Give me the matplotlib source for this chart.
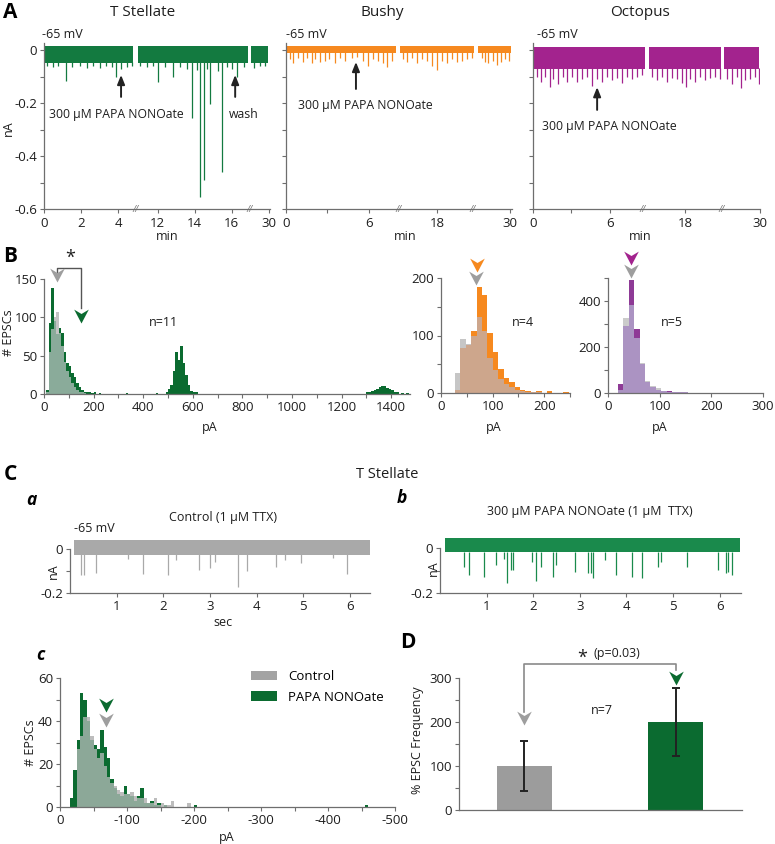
import numpy as np
import matplotlib
matplotlib.use("Agg")
import matplotlib.pyplot as plt
from matplotlib.path import Path
from matplotlib.patches import Patch

plt.rcParams['font.family'] = ['Open Sans', 'DejaVu Sans']
plt.rcParams['axes.unicode_minus'] = False

W, H = 775, 844
GREEN = '#0b6b30'
TRACE_G = '#137a40'
ORANGE = '#f6891f'
PURPLE = '#a3238e'
SPINE = '#6e6e6e'
TXT = '#1e1e1e'

# ---------------- A: long recordings (event time in min, peak in nA) ----------------
ts_segs = [(0.05, 4.81, 0.0), (10.93, 16.86, 5.87), (29.01, 29.91, 17.84)]
ts_breaks = [4.92, 11.08]
ts_ticks = [0, 2, 4, 12, 14, 16, 30]
ts_ticklabels = ['0', '2', '4', '12', '14', '16', '30']
ts_band = (0.015, -0.05)
ts_t = [0.14, 0.5, 0.77, 1.17, 1.5, 1.95, 2.34, 2.67, 3.03, 3.35, 3.66, 3.89, 4.14, 4.47, 4.74,
        11.06, 11.42, 11.78, 12.05, 12.41, 12.83, 13.22, 13.58, 13.85, 14.12, 14.3, 14.5, 14.66,
        14.84, 15.24, 15.47, 15.74, 16.01, 16.3, 16.64,
        29.15, 29.48, 29.79]
ts_a = [-0.06, -0.065, -0.06, -0.117, -0.065, -0.062, -0.066, -0.06, -0.068, -0.062, -0.065, -0.1,
        -0.07, -0.063, -0.06,
        -0.06, -0.065, -0.062, -0.12, -0.065, -0.1, -0.065, -0.07, -0.255, -0.075, -0.555, -0.49,
        -0.07, -0.205, -0.08, -0.46, -0.065, -0.07, -0.1, -0.065,
        -0.068, -0.06, -0.062]

bu_segs = [(0.07, 7.97, 0.0), (15.32, 20.68, 7.06), (27.68, 30.1, 13.77)]
bu_breaks = [8.19, 13.55]
bu_ticks = [0, 3, 6, 18, 30]
bu_ticklabels = ['0', '', '6', '18', '30']
bu_band = (0.014, -0.013)
bu_t = [0.29, 0.53, 0.89, 1.21, 1.5, 1.86, 2.1, 2.46, 2.83, 3.14, 3.55, 3.91, 4.28, 4.76, 5.17,
        5.6, 5.92, 6.33, 6.69, 7.05, 7.34, 7.66,
        15.56, 15.85, 16.17, 16.53, 16.89, 17.25, 17.62, 17.98, 18.34, 18.7, 19.06, 19.43, 19.79,
        20.15, 20.51,
        27.94, 28.19, 28.43, 28.75, 29.04, 29.35, 29.64, 29.95]
bu_a = [-0.035, -0.05, -0.03, -0.045, -0.03, -0.05, -0.035, -0.045, -0.04, -0.035, -0.05, -0.03,
        -0.04, -0.03, -0.025, -0.04, -0.06, -0.035, -0.04, -0.05, -0.065, -0.04,
        -0.035, -0.045, -0.03, -0.05, -0.035, -0.04, -0.06, -0.075, -0.04, -0.05, -0.035, -0.045,
        -0.04, -0.035, -0.03,
        -0.03, -0.045, -0.05, -0.04, -0.055, -0.045, -0.035, -0.04]

oc_segs = [(0.0, 8.75, 0.0), (15.21, 20.84, 6.15), (27.23, 29.97, 12.31)]
oc_breaks = [8.57, 14.73]
oc_ticks = [0, 3, 6, 18, 30]
oc_ticklabels = ['0', '', '6', '18', '30']
oc_band = (0.012, -0.072)
oc_t = [0.29, 0.6, 0.94, 1.33, 1.59, 1.98, 2.32, 2.63, 3.02, 3.41, 3.8, 4.19, 4.58, 4.97, 5.36,
        5.76, 6.14, 6.54, 6.93, 7.32, 7.71, 8.1, 8.49,
        15.42, 15.81, 16.2, 16.59, 16.98, 17.37, 17.76, 18.08, 18.42, 18.81, 19.2, 19.59, 19.98,
        20.37, 20.71,
        27.44, 27.83, 28.22, 28.53, 28.87, 29.26, 29.65, 29.94]
oc_a = [-0.1, -0.12, -0.1, -0.14, -0.11, -0.13, -0.1, -0.12, -0.1, -0.12, -0.11, -0.1, -0.135,
        -0.11, -0.12, -0.1, -0.115, -0.105, -0.125, -0.1, -0.11, -0.1, -0.095,
        -0.1, -0.115, -0.1, -0.12, -0.105, -0.11, -0.125, -0.14, -0.11, -0.12, -0.1, -0.115,
        -0.105, -0.1, -0.11,
        -0.11, -0.13, -0.1, -0.145, -0.115, -0.11, -0.1, -0.13]

# ---------------- B: amplitude histograms (bin left edge in pA, counts) ----------------
ts_bins = [10, 20, 30, 40, 50, 60, 70, 80, 90, 100, 110, 120, 130, 140, 150, 160, 170, 180, 190,
           200, 220, 330, 450, 490, 500, 510, 520, 530, 540, 550, 560, 570, 580, 590, 600, 610,
           1300, 1310, 1320, 1330, 1340, 1350, 1360, 1370, 1380, 1390, 1400, 1410, 1420, 1440, 1460]
ts_papa = [5, 92, 138, 95, 78, 86, 80, 55, 40, 37, 28, 22, 14, 9, 5, 3, 2, 3, 1,
           2, 1, 1, 1, 2, 7, 12, 30, 55, 45, 63, 40, 25, 12, 4, 2, 2,
           2, 3, 4, 5, 7, 9, 10, 10, 8, 7, 5, 3, 2, 1, 1]
ts_ctrl = [3, 55, 85, 100, 107, 80, 62, 42, 30, 22, 14, 9, 5, 3, 2, 1, 0, 0, 0,
           0, 0, 0, 0, 0, 0, 0, 0, 0, 0, 0, 0, 0, 0, 0, 0, 0,
           0, 0, 0, 0, 0, 0, 0, 0, 0, 0, 0, 0, 0, 0, 0]

bu_bins = [27, 37.5, 48, 58.5, 69, 79.5, 90, 100.5, 111, 121.5, 132, 142.5, 153, 163.5, 174,
           184.5, 195, 205.5, 216, 226.5, 237]
bu_papa = [5, 78, 84, 107, 185, 170, 105, 71, 42, 26, 19, 10, 6, 3, 2, 3, 0, 3, 0, 0, 2]
bu_ctrl = [34, 94, 86, 100, 133, 107, 60, 40, 25, 15, 10, 6, 4, 2, 1, 1, 0, 0, 0, 0, 0]

oc_bins = [19, 29.5, 40, 50.5, 61, 71.5, 82, 92.5, 103, 113.5, 124, 134.5, 145, 155.5, 166, 176.5]
oc_papa = [40, 290, 493, 278, 125, 48, 25, 14, 10, 7, 5, 4, 3, 2, 2, 1]
oc_ctrl = [15, 325, 384, 240, 130, 53, 30, 20, 8, 6, 5, 3, 3, 2, 1, 1]

# ---------------- C: TTX recordings (time in s, peak in nA) ----------------
ca_span = (0.08, 6.42)
ca_band = (0.04, -0.027)
ca_t = [0.24, 0.3, 0.55, 1.24, 1.57, 2.1, 2.28, 2.76, 3.0, 3.1, 3.6, 3.8, 4.41, 4.6, 4.96, 5.64, 5.93]
ca_a = [-0.118, -0.12, -0.108, -0.045, -0.112, -0.118, -0.05, -0.095, -0.087, -0.06, -0.172,
        -0.1, -0.083, -0.05, -0.065, -0.04, -0.112]

cb_span = (0.1, 6.44)
cb_band = (0.045, -0.02)
cb_t = [0.52, 0.62, 0.95, 1.2, 1.38, 1.44, 1.52, 1.56, 1.97, 2.05, 2.17, 2.43, 2.5, 2.9, 3.18,
        3.23, 3.29, 3.54, 3.77, 4.11, 4.33, 4.67, 4.74, 5.31, 5.96, 6.14, 6.19, 6.26]
cb_a = [-0.086, -0.12, -0.128, -0.076, -0.05, -0.156, -0.098, -0.098, -0.06, -0.145, -0.086,
        -0.13, -0.076, -0.108, -0.11, -0.11, -0.135, -0.055, -0.12, -0.13, -0.135, -0.084, -0.06,
        -0.086, -0.098, -0.11, -0.105, -0.12]

# c: amplitude histogram in TTX (bin left edge, |pA|, width 5)
tt_bins = [15, 20, 25, 30, 35, 40, 45, 50, 55, 60, 65, 70, 75, 80, 85, 90, 95, 100, 105, 110,
           115, 120, 125, 130, 135, 140, 145, 150, 155, 160, 165, 190, 200, 455]
tt_papa = [4, 17, 31, 53, 50, 40, 31, 29, 27, 36, 28, 23, 13, 9, 6, 5, 10, 6, 5, 3,
           5, 9, 2, 2, 3, 1, 2, 0, 1, 0, 0, 0, 1, 1]
tt_ctrl = [0, 0, 27, 33, 42, 42, 33, 27, 23, 25, 19, 14, 11, 10, 8, 7, 6, 6, 7, 5,
           4, 4, 4, 2, 2, 4, 1, 2, 1, 1, 3, 2, 0, 0]

# D: EPSC frequency
d_names = ['Control', 'PAPA NONOate']
d_vals = [100, 200]
d_err = [56, 77]

fig = plt.figure(figsize=(7.75, 8.44), dpi=100)


def box(l, t, r, b):
    return fig.add_axes([l / W, 1 - b / H, (r - l) / W, (b - t) / H])


def ftext(x, y, s, **kw):
    kw.setdefault('color', TXT)
    kw.setdefault('ha', 'center')
    kw.setdefault('va', 'center')
    kw.setdefault('fontsize', 9)
    fig.text(x / W, 1 - y / H, s, **kw)


def style(ax):
    for s in ['top', 'right']:
        ax.spines[s].set_visible(False)
    for s in ['left', 'bottom']:
        ax.spines[s].set_color(SPINE)
        ax.spines[s].set_linewidth(0.9)
    ax.tick_params(which='both', direction='out', length=3, width=0.8, color=SPINE,
                   labelsize=9.5, pad=2, labelcolor=TXT)


HEAD = Path([(0, 0), (-1, 1.9), (0, 1.3), (1, 1.9), (0, 0)],
            [Path.MOVETO, Path.LINETO, Path.LINETO, Path.LINETO, Path.CLOSEPOLY])


def head(ax, x, y, color, ms=20):
    ax.plot([x], [y], marker=HEAD, ms=ms, color=color, mec='none', ls='none', clip_on=False,
            zorder=5)


def trace_panel(ax, segs, breaks, t, a, band, color, xmax, ticks, ticklabels, ylab):
    starts = np.array([s[0] for s in segs])
    offs = np.array([s[2] for s in segs])

    def disp(v):
        v = np.asarray(v, dtype=float)
        i = np.clip(np.searchsorted(starts, v, side='right') - 1, 0, len(segs) - 1)
        return v - offs[i]

    for s, e, o in segs:
        ax.fill_between([s - o, e - o], band[1], band[0], color=color, lw=0)
    ax.vlines(disp(t), band[1] + 0.005, a, color=color, lw=0.9)
    style(ax)
    ax.set_xlim(0, xmax)
    ax.set_ylim(-0.6, 0.025)
    ax.set_xticks(disp(ticks))
    ax.set_xticklabels(ticklabels)
    ax.set_yticks([-0.6, -0.4, -0.2, 0])
    ax.set_yticks([-0.5, -0.3, -0.1], minor=True)
    if ylab:
        ax.set_yticklabels(['-0.6', '-0.4', '-0.2', '0'])
    else:
        ax.set_yticklabels([])
    ax.tick_params(axis='x', pad=3)
    for b in breaks:
        ax.text(b, -0.6, '//', ha='center', va='center', fontsize=6.5, color=SPINE,
                clip_on=False, style='italic')
    return disp


def arrow(ax, x, tip, tail):
    ax.annotate('', xy=(x, tip), xytext=(x, tail),
                arrowprops=dict(arrowstyle='-|>,head_length=0.55,head_width=0.22', lw=1.4,
                                color='#222222', shrinkA=0, shrinkB=0))


# ---- A ----
ax = box(44, 43.4, 270, 209)
d = trace_panel(ax, ts_segs, ts_breaks, ts_t, ts_a, ts_band, TRACE_G, 12.2, ts_ticks,
                ts_ticklabels, True)
arrow(ax, d(4.16), -0.094, -0.177)
ax.text(3.92, -0.245, '300 μM PAPA NONOate', ha='center', va='center', fontsize=8.8, color=TXT)
arrow(ax, d(16.19), -0.094, -0.177)
ax.text(10.76, -0.245, 'wash', ha='center', va='center', fontsize=8.8, color=TXT)

ax = box(286, 43.4, 512, 209)
d = trace_panel(ax, bu_segs, bu_breaks, bu_t, bu_a, bu_band, ORANGE, 16.38, bu_ticks,
                bu_ticklabels, False)
arrow(ax, d(5.07), -0.045, -0.147)
ax.text(5.72, -0.211, '300 μM PAPA NONOate', ha='center', va='center', fontsize=8.8, color=TXT)

ax = box(533, 43.4, 760, 209)
d = trace_panel(ax, oc_segs, oc_breaks, oc_t, oc_a, oc_band, PURPLE, 17.7, oc_ticks,
                oc_ticklabels, False)
arrow(ax, d(5.0), -0.14, -0.226)
ax.text(5.94, -0.29, '300 μM PAPA NONOate', ha='center', va='center', fontsize=8.8, color=TXT)

ftext(10, 12, 'A', fontsize=15, fontweight='bold', color='black')
ftext(143, 12, 'T Stellate', fontsize=11)
ftext(382, 12, 'Bushy', fontsize=11)
ftext(640, 12, 'Octopus', fontsize=11)
for x in [42, 286, 537]:
    ftext(x, 35, '-65 mV', ha='left')
ftext(8, 128, 'nA', rotation=90)
for x in [167, 405, 640]:
    ftext(x, 237, 'min')


# ---- B ----
def dual_hist(ax, left, width, papa, ctrl, c_papa, c_ctrl, c_both):
    left = np.asarray(left, dtype=float)
    p = np.asarray(papa, dtype=float)
    c = np.asarray(ctrl, dtype=float)
    ax.bar(left, c, width=width, align='edge', color=c_ctrl, lw=0)
    ax.bar(left, p, width=width, align='edge', color=c_papa, lw=0)
    ax.bar(left, np.minimum(p, c), width=width, align='edge', color=c_both, lw=0)
    hi = c > p
    ax.bar(left[hi], (c - p)[hi], bottom=p[hi], width=width, align='edge', color=c_ctrl, lw=0)


ax = box(44, 279, 410, 394)
dual_hist(ax, ts_bins, 10, ts_papa, ts_ctrl, GREEN, '#c3c3c3', '#8aab9a')
style(ax)
ax.set_xlim(0, 1476)
ax.set_ylim(0, 150)
ax.set_xticks(np.arange(0, 1401, 200))
ax.set_xticks(np.arange(100, 1500, 200), minor=True)
ax.set_yticks([0, 50, 100, 150])
head(ax, 52, 146, '#9e9e9e')
head(ax, 149, 92, GREEN)
ax.plot([52, 52, 149, 149], [156, 164, 164, 112], color='#555555', lw=1, clip_on=False)
ftext(70, 258, '*', fontsize=13)
ftext(163, 323, 'n=11')
ftext(210, 428, 'pA')
ftext(9, 333, '# EPSCs', rotation=90)
ftext(10, 256, 'B', fontsize=15, fontweight='bold', color='black')

ax = box(441, 278, 570, 393)
dual_hist(ax, bu_bins, 10.5, bu_papa, bu_ctrl, ORANGE, '#c6c6c6', '#cda68c')
style(ax)
ax.set_xlim(0, 250)
ax.set_ylim(0, 200)
ax.set_xticks([0, 100, 200])
ax.set_xticks([50, 150, 250], minor=True)
ax.set_yticks([0, 100, 200])
ax.set_yticks([50, 150], minor=True)
head(ax, 69, 210, ORANGE)
head(ax, 68, 188, '#9e9e9e')
ftext(523, 323, 'n=4')
ftext(494, 428, 'pA')

ax = box(608, 278, 763, 393)
dual_hist(ax, oc_bins, 10.5, oc_papa, oc_ctrl, '#8e3a96', '#cbcbcb', '#ab93c2')
style(ax)
ax.set_xlim(0, 300)
ax.set_ylim(0, 500)
ax.set_xticks([0, 100, 200, 300])
ax.set_yticks([0, 200, 400])
ax.set_yticks([100, 300, 500], minor=True)
head(ax, 44, 556, PURPLE)
head(ax, 44, 498, '#9e9e9e')
ftext(672, 323, 'n=5')
ftext(660, 428, 'pA')

# ---- C ----
ftext(10, 474, 'C', fontsize=15, fontweight='bold', color='black')
ftext(387, 474, 'T Stellate', fontsize=10.5)


def ttx_trace(ax, span, band, t, a, color, xmax):
    ax.fill_between(list(span), band[1], band[0], color=color, lw=0)
    ax.vlines(t, band[1] + 0.003, a, color=color, lw=0.9)
    style(ax)
    ax.set_xlim(0, xmax)
    ax.set_ylim(-0.2, 0.05)
    ax.spines['left'].set_bounds(-0.2, 0)
    ax.spines['bottom'].set_bounds(0, xmax)
    ax.set_xticks([1, 2, 3, 4, 5, 6])
    ax.set_yticks([-0.2, 0])
    ax.set_yticks([-0.1], minor=True)
    ax.set_yticklabels(['-0.2', '0'])


ax = box(70, 538, 370, 593)
ttx_trace(ax, ca_span, ca_band, ca_t, ca_a, '#a9a9a9', 6.43)
ftext(31, 500, 'a', fontsize=12.5, fontweight='bold', style='italic', color='black')
ftext(223, 518, 'Control (1 μM TTX)')
ftext(74, 528, '-65 mV', ha='left')
ftext(53, 571, 'nA', rotation=90)
ftext(223, 623, 'sec')

ax = box(440, 536.75, 741, 593)
ttx_trace(ax, cb_span, cb_band, cb_t, cb_a, '#1a8a4c', 6.46)
ftext(402, 498, 'b', fontsize=12.5, fontweight='bold', style='italic', color='black')
ftext(590, 512, '300 μM PAPA NONOate (1 μM  TTX)')
ftext(433, 568, 'nA', rotation=90)

ax = box(60, 678, 395, 807)
tl = -np.asarray(tt_bins, dtype=float)
dual_hist(ax, tl, -5, tt_papa, tt_ctrl, GREEN, '#bdbdbd', '#8ca898')
style(ax)
ax.set_xlim(0, -500)
ax.set_ylim(0, 60)
ax.set_xticks([0, -100, -200, -300, -400, -500])
ax.set_xticklabels(['0', '-100', '-200', '-300', '-400', '-500'])
ax.set_xticks([-50, -150, -250, -350, -450], minor=True)
ax.set_yticks([0, 20, 40, 60])
ax.set_yticks([10, 30, 50], minor=True)
head(ax, -69, 44, GREEN)
head(ax, -69, 37, '#9e9e9e')
ax.legend(handles=[Patch(color='#a3a3a3', lw=0), Patch(color=GREEN, lw=0)], labels=d_names,
          loc='upper left', bbox_to_anchor=(0.57, 1.06), frameon=False, fontsize=9.5,
          handlelength=2.0, handleheight=0.75, handletextpad=0.8, labelspacing=0.55,
          borderaxespad=0, borderpad=0)
ftext(40, 655, 'c', fontsize=12.5, fontweight='bold', style='italic', color='black')
ftext(30, 743, '# EPSCs', rotation=90)
ftext(227, 837, 'pA')

# ---- D ----
ax = box(459, 678, 742, 810)
ax.bar([0, 1], d_vals, width=0.363, color=['#9c9c9c', GREEN], lw=0)
ax.errorbar([0, 1], d_vals, yerr=d_err, fmt='none', ecolor='#222222', elinewidth=1.4, capsize=3,
            capthick=1.4)
style(ax)
ax.set_xlim(-0.432, 1.436)
ax.set_ylim(0, 300)
ax.set_xticks([])
ax.set_yticks([0, 100, 200, 300])
ax.set_yticks([50, 150, 250], minor=True)
head(ax, 0, 193, '#9e9e9e')
head(ax, 1, 284, GREEN)
ax.plot([0, 0, 1, 1], [223, 332, 332, 318], color='#8a8a8a', lw=1.2, clip_on=False)
ftext(408, 642, 'D', fontsize=15, fontweight='bold', color='black')
ftext(582, 658, '*', fontsize=13)
ftext(617, 654, '(p=0.03)')
ftext(602, 710, 'n=7')
ftext(418, 740, '% EPSC Frequency', rotation=90)

fig.savefig('out.png', dpi=100)
